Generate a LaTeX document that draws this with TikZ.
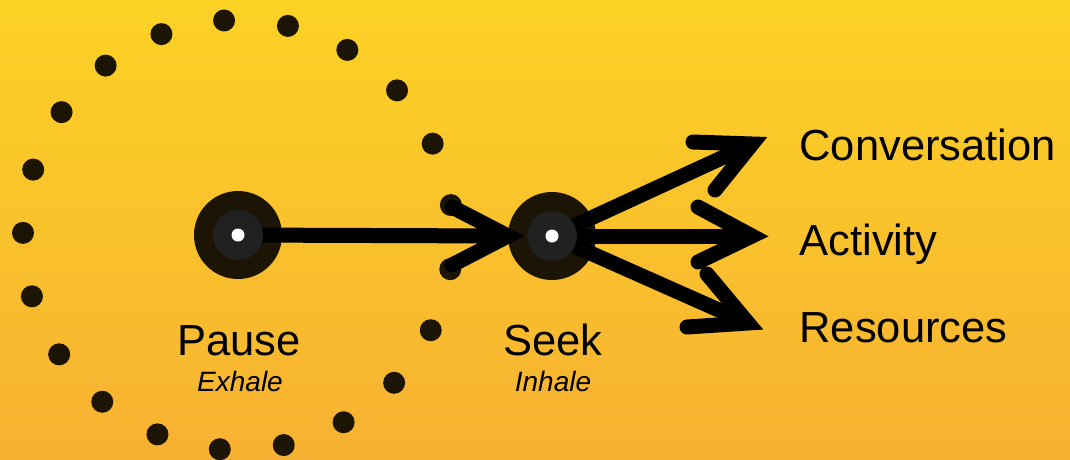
\documentclass[tikz,border=0pt]{standalone}
\usepackage{fontspec}
\setmainfont{Liberation Sans}
\definecolor{bgtop}{HTML}{FCD225}
\definecolor{bgbot}{HTML}{F7B132}
\definecolor{dotc}{HTML}{1C1505}
\definecolor{innerc}{HTML}{202020}
\begin{document}
\begin{tikzpicture}[x=1pt,y=-1pt,
  dotmark/.style={circle,fill=dotc,minimum size=22pt,inner sep=0pt},
  hub/.style={circle,fill=dotc,minimum size=88pt,inner sep=0pt},
  core/.style={circle,fill=innerc,minimum size=50pt,inner sep=0pt},
  eye/.style={circle,fill=white,minimum size=13pt,inner sep=0pt},
  shaft/.style={line width=15pt,black},
  headline/.style={line width=15pt,black,line cap=round,line join=miter,miter limit=10},
  big/.style={font=\fontsize{43.5}{48}\selectfont,anchor=base},
  small/.style={font=\fontsize{28}{32}\selectfont\itshape,anchor=base},
  lab/.style={font=\fontsize{43.5}{48}\selectfont,anchor=base west}]
\shade[top color=bgtop,bottom color=bgbot] (0,0) rectangle (1070,459);
\useasboundingbox (0,0) rectangle (1070,459);
% ring of dots
\foreach \i in {0,...,20}{
  \pgfmathsetmacro\ang{8+\i*360/21}
  \node[dotmark] (d\i) at ({238+215*cos(\ang)},{235-215*sin(\ang)}) {};
}
% hubs
\node[hub] (pause) at (238,235) {};
\node[hub] (seek) at (552,236) {};
% coordinates for arrow tips and barbs
\coordinate (t0) at (508,236);
\coordinate (a0) at (452,207);
\coordinate (b0) at (452,265);
\coordinate (t1) at (752,144);
\coordinate (a1) at (693,142);
\coordinate (b1) at (715,190);
\coordinate (t2) at (752,236);
\coordinate (a2) at (698,207);
\coordinate (b2) at (698,262);
\coordinate (t3) at (748,323);
\coordinate (a3) at (707,274);
\coordinate (b3) at (687,327);
% pause -> seek
\draw[shaft] (pause.center) -- (t0);
\draw[headline] (a0) -- (t0) -- (b0);
% seek -> three
\draw[shaft] (seek.center) -- (t1);
\draw[headline] (a1) -- (t1) -- (b1);
\draw[shaft] (seek.center) -- (t2);
\draw[headline] (a2) -- (t2) -- (b2);
\draw[shaft] (seek.center) -- (t3);
\draw[headline] (a3) -- (t3) -- (b3);
% cores on top
\node[core] (pcore) at (pause) {};
\node[eye] (pc) at (pause) {};
\node[core] (score) at (seek) {};
\node[eye] (sc) at (seek) {};
% labels
\node[big] (pausel) at (239,355) {Pause};
\node[small] (exh) at (240,391) {Exhale};
\node[big] (seekl) at (553,355) {Seek};
\node[small] (inh) at (553,391) {Inhale};
\node[lab] (conv) at (796,160) {Conversation};
\node[lab] (act) at (796,255) {Activity};
\node[lab] (res) at (796,342) {Resources};
\end{tikzpicture}
\end{document}
